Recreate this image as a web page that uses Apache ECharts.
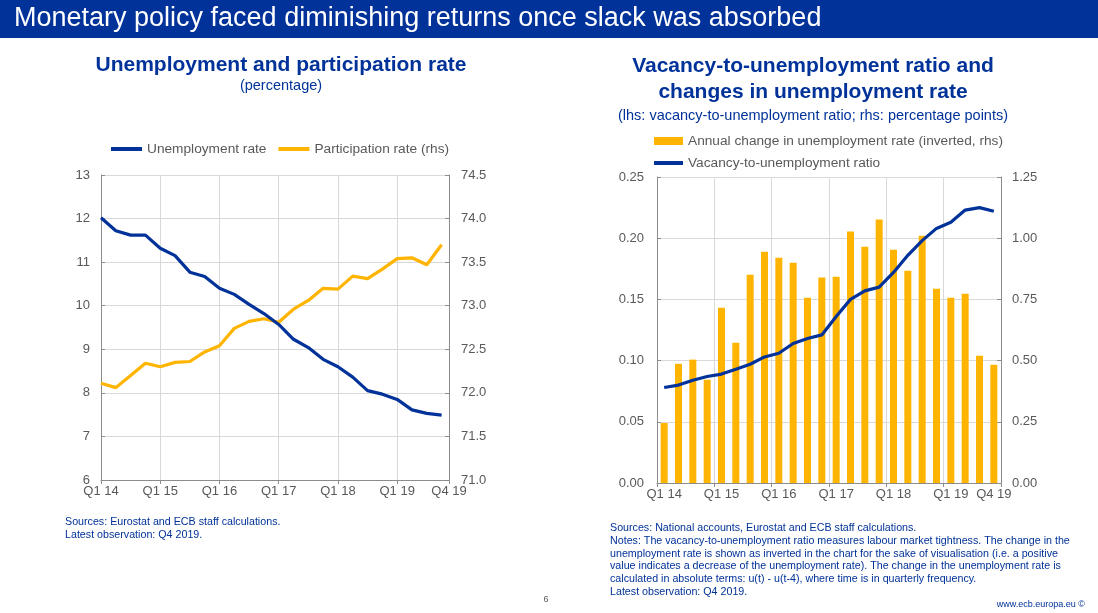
<!DOCTYPE html>
<html>
<head>
<meta charset="utf-8">
<title>Monetary policy faced diminishing returns once slack was absorbed</title>
<script src="https://cdn.jsdelivr.net/npm/echarts@6/dist/echarts.min.js"></script>
<style>
  html, body { margin: 0; padding: 0; background: #fff; }
  #chart { width: 1098px; height: 613px; }
</style>
</head>
<body>
<div id="chart"></div>
<script>
// quarters Q1 2014 .. Q4 2019
var quarters = [];
['14', '15', '16', '17', '18', '19'].forEach(function (y) {
    for (var q = 1; q <= 4; q++) quarters.push('Q' + q + ' ' + y);
});

// left panel (percentage)
var unemploymentRate = [12.02, 11.72, 11.62, 11.62, 11.32, 11.15, 10.77, 10.67, 10.40, 10.26, 10.03, 9.82,
    9.57, 9.23, 9.04, 8.77, 8.60, 8.36, 8.05, 7.97, 7.85, 7.61, 7.53, 7.49];
var participationRate = [72.11, 72.06, 72.20, 72.34, 72.30, 72.35, 72.36, 72.47, 72.54, 72.74, 72.82, 72.85,
    72.81, 72.96, 73.06, 73.20, 73.19, 73.34, 73.31, 73.42, 73.54, 73.55, 73.47, 73.70];

// right panel
var vacancyRatio = [0.078, 0.080, 0.084, 0.087, 0.089, 0.093, 0.097, 0.103, 0.106, 0.114, 0.118, 0.121,
    0.136, 0.150, 0.157, 0.160, 0.172, 0.186, 0.198, 0.208, 0.213, 0.223, 0.225, 0.222];
var unempChangeInv = [0.245, 0.487, 0.504, 0.422, 0.716, 0.573, 0.851, 0.945, 0.920, 0.900, 0.757, 0.839,
    0.843, 1.027, 0.965, 1.076, 0.953, 0.867, 1.010, 0.794, 0.757, 0.773, 0.520, 0.483];

var FONT = "'Liberation Sans', Arial, sans-serif";
var BLUE = '#003299';
var YELLOW = '#FFB400';
var AXIS = '#8c8c8c';
var GRID = '#d9d9d9';
var LABEL = '#595959';

function pairs(arr) {
    return arr.map(function (v, i) { return [i, v]; });
}

var axisLabelStyle = { color: LABEL, fontSize: 13, fontFamily: FONT };
var legendText = { color: LABEL, fontSize: 13.7, fontFamily: FONT };

var myChart = echarts.init(document.getElementById('chart'));

var option = {
    backgroundColor: '#fff',
    animation: false,
    textStyle: { fontFamily: FONT },
    graphic: [
        { type: 'rect', shape: { x: 0, y: 0, width: 1098, height: 38 }, style: { fill: BLUE }, z: -10 },
        { type: 'text', x: 14, y: 19, style: { text: 'Monetary policy faced diminishing returns once slack was absorbed',
            fill: '#fff', font: '27px ' + FONT, verticalAlign: 'middle' } },
        // left title
        { type: 'text', x: 281, y: 65, style: { text: 'Unemployment and participation rate',
            fill: BLUE, font: 'bold 21px ' + FONT, align: 'center', verticalAlign: 'middle' } },
        { type: 'text', x: 281, y: 86, style: { text: '(percentage)',
            fill: BLUE, font: '14.5px ' + FONT, align: 'center', verticalAlign: 'middle' } },
        // right title
        { type: 'text', x: 813, y: 79, style: { text: 'Vacancy-to-unemployment ratio and\nchanges in unemployment rate',
            fill: BLUE, font: 'bold 21px ' + FONT, align: 'center', verticalAlign: 'middle', lineHeight: 26 } },
        { type: 'text', x: 813, y: 116, style: { text: '(lhs: vacancy-to-unemployment ratio; rhs: percentage points)',
            fill: BLUE, font: '14.5px ' + FONT, align: 'center', verticalAlign: 'middle' } },
        // footnotes
        { type: 'text', x: 65, y: 516, style: { text: 'Sources: Eurostat and ECB staff calculations.\nLatest observation: Q4 2019.',
            fill: BLUE, font: '10.7px ' + FONT, lineHeight: 12.7 } },
        { type: 'text', x: 610, y: 522, style: { text: 'Sources: National accounts, Eurostat and ECB staff calculations.\n' +
            'Notes: The vacancy-to-unemployment ratio measures labour market tightness. The change in the\n' +
            'unemployment rate is shown as inverted in the chart for the sake of visualisation (i.e. a positive\n' +
            'value indicates a decrease of the unemployment rate). The change in the unemployment rate is\n' +
            'calculated in absolute terms: u(t) - u(t-4), where time is in quarterly frequency.\n' +
            'Latest observation: Q4 2019.',
            fill: BLUE, font: '10.7px ' + FONT, lineHeight: 12.7 } },
        { type: 'text', x: 1085, y: 605, style: { text: 'www.ecb.europa.eu ©', fill: BLUE, font: '9px ' + FONT,
            align: 'right', verticalAlign: 'middle' } },
        { type: 'text', x: 546, y: 600, style: { text: '6', fill: LABEL, font: '9px ' + FONT,
            align: 'center', verticalAlign: 'middle' } }
    ],
    legend: [
        { data: ['Unemployment rate', 'Participation rate (rhs)'], left: 106, top: 137, icon: 'rect',
            itemWidth: 31, itemHeight: 4, itemGap: 12, textStyle: legendText },
        { data: ['Annual change in unemployment rate (inverted, rhs)'], left: 649, top: 129, icon: 'rect',
            itemWidth: 29, itemHeight: 8, textStyle: legendText },
        { data: ['Vacancy-to-unemployment ratio'], left: 649, top: 151, icon: 'rect',
            itemWidth: 29, itemHeight: 4, textStyle: legendText }
    ],
    grid: [
        { left: 101, top: 175, width: 348, height: 305 },
        { left: 657, top: 177, width: 344, height: 306 }
    ],
    xAxis: [
        {
            gridIndex: 0, type: 'value', min: 0, max: 23.5, interval: 4,
            axisLine: { lineStyle: { color: AXIS } },
            axisTick: { show: true, length: 4, lineStyle: { color: AXIS } },
            splitLine: { show: true, lineStyle: { color: GRID } },
            axisLabel: Object.assign({ margin: 5, formatter: function (v) {
                return quarters[Math.min(Math.round(v), quarters.length - 1)];
            } }, axisLabelStyle)
        },
        {
            gridIndex: 1, type: 'category', data: quarters, boundaryGap: true,
            axisLine: { lineStyle: { color: AXIS } },
            axisTick: { show: true, length: 4, lineStyle: { color: AXIS },
                interval: function (i) { return i % 4 === 0; } },
            splitLine: { show: true, lineStyle: { color: GRID },
                interval: function (i) { return i % 4 === 0; } },
            axisLabel: Object.assign({ margin: 5,
                interval: function (i) { return i % 4 === 0 || i === quarters.length - 1; } }, axisLabelStyle)
        }
    ],
    yAxis: [
        {
            gridIndex: 0, type: 'value', min: 6, max: 13, interval: 1,
            axisLine: { show: true, lineStyle: { color: AXIS } },
            axisTick: { show: true, inside: true, length: 4, lineStyle: { color: AXIS } },
            splitLine: { show: true, lineStyle: { color: GRID } },
            axisLabel: Object.assign({ margin: 11 }, axisLabelStyle)
        },
        {
            gridIndex: 0, type: 'value', position: 'right', min: 71, max: 74.5, interval: 0.5,
            axisLine: { show: true, lineStyle: { color: AXIS } },
            axisTick: { show: true, inside: true, length: 4, lineStyle: { color: AXIS } },
            splitLine: { show: false },
            axisLabel: Object.assign({ margin: 12, formatter: function (v) { return v.toFixed(1); } }, axisLabelStyle)
        },
        {
            gridIndex: 1, type: 'value', min: 0, max: 0.25, interval: 0.05,
            axisLine: { show: true, lineStyle: { color: AXIS } },
            axisTick: { show: true, inside: true, length: 4, lineStyle: { color: AXIS } },
            splitLine: { show: true, lineStyle: { color: GRID } },
            axisLabel: Object.assign({ margin: 13, formatter: function (v) { return v.toFixed(2); } }, axisLabelStyle)
        },
        {
            gridIndex: 1, type: 'value', position: 'right', min: 0, max: 1.25, interval: 0.25,
            axisLine: { show: true, lineStyle: { color: AXIS } },
            axisTick: { show: true, inside: true, length: 4, lineStyle: { color: AXIS } },
            splitLine: { show: false },
            axisLabel: Object.assign({ margin: 11, formatter: function (v) { return v.toFixed(2); } }, axisLabelStyle)
        }
    ],
    series: [
        {
            name: 'Unemployment rate', type: 'line', xAxisIndex: 0, yAxisIndex: 0,
            data: pairs(unemploymentRate), symbol: 'none', color: BLUE,
            lineStyle: { color: BLUE, width: 3.2 }, z: 3
        },
        {
            name: 'Participation rate (rhs)', type: 'line', xAxisIndex: 0, yAxisIndex: 1,
            data: pairs(participationRate), symbol: 'none', color: YELLOW,
            lineStyle: { color: YELLOW, width: 3.2 }, z: 2
        },
        {
            name: 'Annual change in unemployment rate (inverted, rhs)', type: 'bar', xAxisIndex: 1, yAxisIndex: 3,
            data: unempChangeInv, barWidth: 7, color: YELLOW, itemStyle: { color: YELLOW }
        },
        {
            name: 'Vacancy-to-unemployment ratio', type: 'line', xAxisIndex: 1, yAxisIndex: 2,
            data: vacancyRatio, symbol: 'none', color: BLUE,
            lineStyle: { color: BLUE, width: 3.2 }, z: 3
        }
    ]
};

myChart.setOption(option);
</script>
</body>
</html>
